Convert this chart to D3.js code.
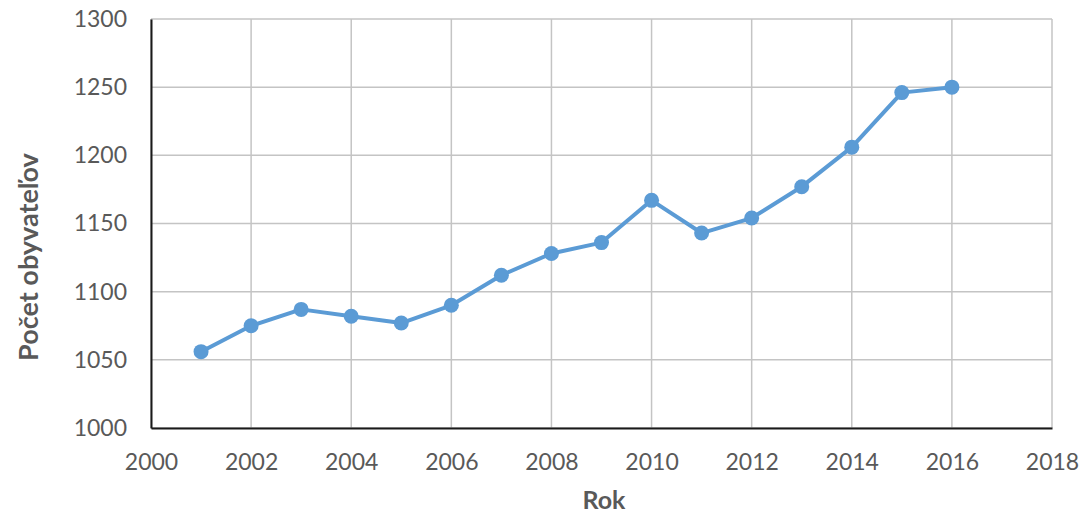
<!DOCTYPE html>
<html>
<head>
<meta charset="utf-8">
<script src="https://cdn.jsdelivr.net/npm/d3@7"></script>
<style>
  body { margin: 0; background: #fff; }
  svg { display: block; font-family: Lato, "Open Sans", sans-serif; }
</style>
</head>
<body>
<svg id="chart" width="1082" height="513"></svg>
<script>
// data
const years = [2001, 2002, 2003, 2004, 2005, 2006, 2007, 2008, 2009, 2010, 2011, 2012, 2013, 2014, 2015, 2016];
const population = [1056, 1075, 1087, 1082, 1077, 1090, 1112, 1128, 1136, 1167, 1143, 1154, 1177, 1206, 1246, 1250];
const xTicks = [2000, 2002, 2004, 2006, 2008, 2010, 2012, 2014, 2016, 2018];
const yTicks = [1000, 1050, 1100, 1150, 1200, 1250, 1300];

const points = years.map((yr, i) => ({ year: yr, value: population[i] }));

const svg = d3.select("#chart");
const plotLeft = 151, plotRight = 1052, plotTop = 19, plotBottom = 428;

const x = d3.scaleLinear().domain([2000, 2018]).range([plotLeft, plotRight]);
const y = d3.scaleLinear().domain([1000, 1300]).range([plotBottom, plotTop]);

// gridlines
svg.append("g")
    .selectAll("line")
    .data(yTicks)
    .enter()
    .append("line")
    .attr("x1", plotLeft).attr("x2", plotRight)
    .attr("y1", d => y(d)).attr("y2", d => y(d))
    .attr("stroke", "#c4c4c4")
    .attr("stroke-width", 1.5);

svg.append("g")
    .selectAll("line")
    .data(xTicks)
    .enter()
    .append("line")
    .attr("x1", d => x(d)).attr("x2", d => x(d))
    .attr("y1", plotTop).attr("y2", plotBottom)
    .attr("stroke", "#c4c4c4")
    .attr("stroke-width", 1.5);

// axes
const xAxis = svg.append("g")
    .attr("transform", `translate(0,${plotBottom})`)
    .call(d3.axisBottom(x).tickValues(xTicks).tickFormat(d3.format("d")).tickSize(0).tickPadding(26));
const yAxis = svg.append("g")
    .attr("transform", `translate(${plotLeft},0)`)
    .call(d3.axisLeft(y).tickValues(yTicks).tickFormat(d3.format("d")).tickSize(0).tickPadding(24));

[xAxis, yAxis].forEach(a => {
    a.select(".domain").attr("stroke", "#1a1a1a").attr("stroke-width", 2);
    a.selectAll("text")
        .style("font-size", "23px")
        .style("font-family", "Lato, 'Open Sans', sans-serif")
        .attr("fill", "#595959");
});

// line + markers
const line = d3.line()
    .x(d => x(d.year))
    .y(d => y(d.value));

svg.append("path")
    .datum(points)
    .attr("d", line)
    .attr("fill", "none")
    .attr("stroke", "#5b9bd5")
    .attr("stroke-width", 4)
    .attr("stroke-linejoin", "round");

svg.append("g")
    .selectAll("circle")
    .data(points)
    .enter()
    .append("circle")
    .attr("cx", d => x(d.year))
    .attr("cy", d => y(d.value))
    .attr("r", 7.5)
    .attr("fill", "#5b9bd5");

// axis titles
svg.append("text")
    .attr("x", 604)
    .attr("y", 509)
    .attr("text-anchor", "middle")
    .style("font-size", "25px")
    .style("font-weight", "bold")
    .attr("fill", "#595959")
    .text("Rok");

svg.append("text")
    .attr("transform", `translate(38,257) rotate(-90)`)
    .attr("text-anchor", "middle")
    .style("font-size", "27px")
    .style("font-weight", "bold")
    .attr("fill", "#595959")
    .text("Počet obyvateľov");
</script>
</body>
</html>
